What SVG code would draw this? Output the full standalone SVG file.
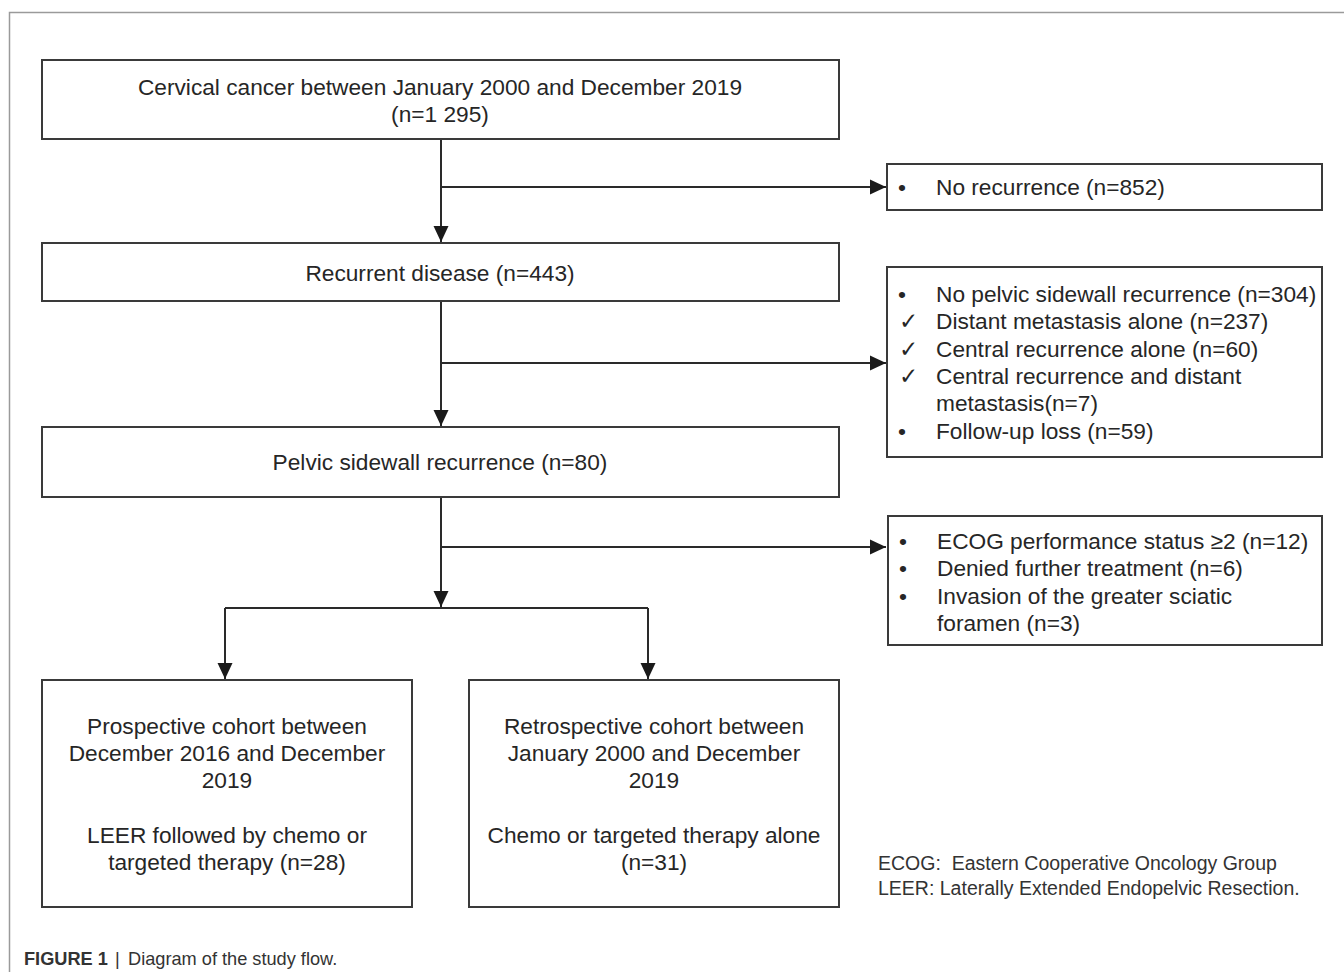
<svg xmlns="http://www.w3.org/2000/svg" width="1344" height="972" viewBox="0 0 1344 972">
<defs>
<style>
.box{fill:#fff;stroke:#3a3a3a;stroke-width:2}
.ln{fill:none;stroke:#2a2a2a;stroke-width:2}
.t{font-family:"Liberation Sans",Arial,sans-serif;font-size:22.7px;fill:#262626}
.c{text-anchor:middle}
.lg{font-family:"Liberation Sans",Arial,sans-serif;font-size:19.5px;fill:#333;white-space:pre}
.cap{font-family:"Liberation Sans",Arial,sans-serif;font-size:18.2px;fill:#333}
</style>
<marker id="ah" markerUnits="userSpaceOnUse" markerWidth="16" markerHeight="16" viewBox="0 0 16 16" refX="16" refY="8" orient="auto">
<path d="M0,0.5 L16,8 L0,15.5 Z" fill="#1a1a1a"/>
</marker>
</defs>
<rect width="1344" height="972" fill="#fff"/>
<path d="M9.5,972 V12.5 H1344" fill="none" stroke="#9a9a9a" stroke-width="1.5"/>

<g id="connectors">
<line class="ln" x1="441" y1="139" x2="441" y2="242" marker-end="url(#ah)"/>
<line class="ln" x1="441" y1="187" x2="886" y2="187" marker-end="url(#ah)"/>
<line class="ln" x1="441" y1="301" x2="441" y2="426" marker-end="url(#ah)"/>
<line class="ln" x1="441" y1="363" x2="886" y2="363" marker-end="url(#ah)"/>
<line class="ln" x1="441" y1="497" x2="441" y2="607" marker-end="url(#ah)"/>
<line class="ln" x1="441" y1="547" x2="886" y2="547" marker-end="url(#ah)"/>
<line class="ln" x1="225" y1="608" x2="648" y2="608"/>
<line class="ln" x1="225" y1="608" x2="225" y2="679" marker-end="url(#ah)"/>
<line class="ln" x1="648" y1="608" x2="648" y2="679" marker-end="url(#ah)"/>
</g>

<g id="n1">
<rect class="box" x="42" y="60" width="797" height="79"/>
<text class="t c" x="440" y="95">Cervical cancer between January 2000 and December 2019</text>
<text class="t c" x="440" y="122">(n=1 295)</text>
</g>

<g id="n2">
<rect class="box" x="887" y="164" width="435" height="46"/>
<text class="t" x="898" y="195">•</text>
<text class="t" x="936" y="195">No recurrence (n=852)</text>
</g>

<g id="n3">
<rect class="box" x="42" y="243" width="797" height="58"/>
<text class="t c" x="440" y="281">Recurrent disease (n=443)</text>
</g>

<g id="n4">
<rect class="box" x="887" y="267" width="435" height="190"/>
<text class="t" x="898" y="302">•</text>
<text class="t" x="936" y="302">No pelvic sidewall recurrence (n=304)</text>
<text class="t" x="899" y="329">✓</text>
<text class="t" x="936" y="329">Distant metastasis alone (n=237)</text>
<text class="t" x="899" y="357">✓</text>
<text class="t" x="936" y="357">Central recurrence alone (n=60)</text>
<text class="t" x="899" y="384">✓</text>
<text class="t" x="936" y="384">Central recurrence and distant</text>
<text class="t" x="936" y="411">metastasis(n=7)</text>
<text class="t" x="898" y="439">•</text>
<text class="t" x="936" y="439">Follow-up loss (n=59)</text>
</g>

<g id="n5">
<rect class="box" x="42" y="427" width="797" height="70"/>
<text class="t c" x="440" y="470">Pelvic sidewall recurrence (n=80)</text>
</g>

<g id="n6">
<rect class="box" x="888" y="516" width="434" height="129"/>
<text class="t" x="899" y="549">•</text>
<text class="t" x="937" y="549">ECOG performance status ≥2 (n=12)</text>
<text class="t" x="899" y="576">•</text>
<text class="t" x="937" y="576">Denied further treatment (n=6)</text>
<text class="t" x="899" y="604">•</text>
<text class="t" x="937" y="604">Invasion of the greater sciatic</text>
<text class="t" x="937" y="631">foramen (n=3)</text>
</g>

<g id="n7">
<rect class="box" x="42" y="680" width="370" height="227"/>
<text class="t c" x="227" y="734">Prospective cohort between</text>
<text class="t c" x="227" y="761">December 2016 and December</text>
<text class="t c" x="227" y="788">2019</text>
<text class="t c" x="227" y="843">LEER followed by chemo or</text>
<text class="t c" x="227" y="870">targeted therapy (n=28)</text>
</g>

<g id="n8">
<rect class="box" x="469" y="680" width="370" height="227"/>
<text class="t c" x="654" y="734">Retrospective cohort between</text>
<text class="t c" x="654" y="761">January 2000 and December</text>
<text class="t c" x="654" y="788">2019</text>
<text class="t c" x="654" y="843">Chemo or targeted therapy alone</text>
<text class="t c" x="654" y="870">(n=31)</text>
</g>

<g id="legend">
<text class="lg" x="878" y="870" xml:space="preserve">ECOG:  Eastern Cooperative Oncology Group</text>
<text class="lg" x="878" y="895">LEER: Laterally Extended Endopelvic Resection.</text>
</g>

<g id="caption">
<text class="cap" x="24" y="965" font-weight="bold" fill="#222">FIGURE 1</text>
<text class="cap" x="115" y="965" fill="#777">|</text>
<text class="cap" x="128" y="965">Diagram of the study flow.</text>
</g>
</svg>
